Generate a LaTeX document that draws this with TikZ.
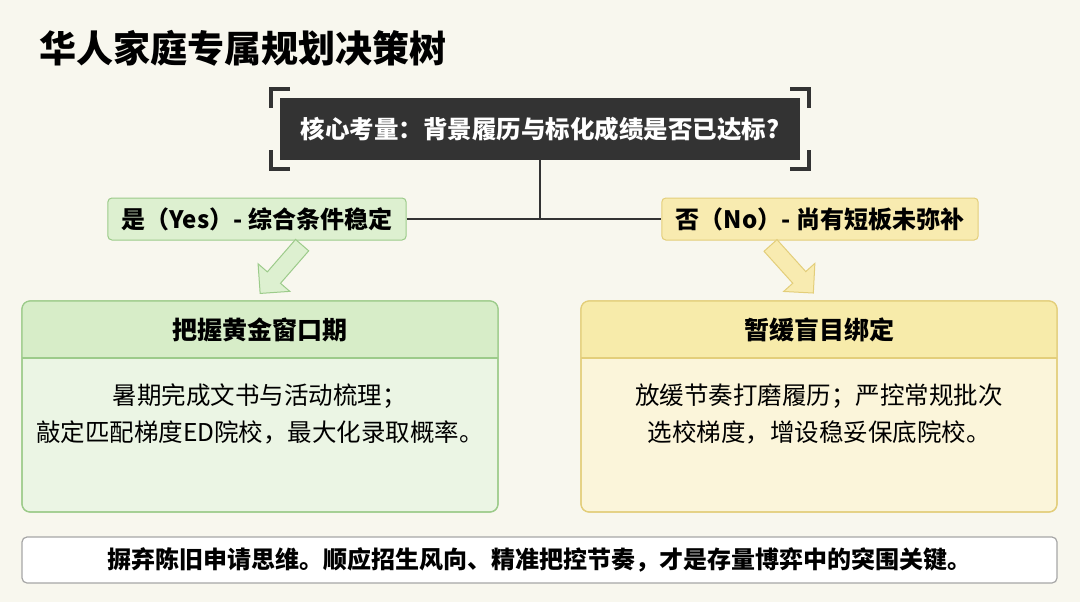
\documentclass[tikz,border=0pt]{standalone}
\usepackage{fontspec}
\setmainfont{Noto Sans CJK SC}
\usetikzlibrary{shapes.arrows}
\definecolor{bg}{HTML}{F8F7EE}
\definecolor{dark}{HTML}{333333}
\definecolor{gfill}{HTML}{DDF0D0}
\definecolor{gline}{HTML}{9CCB8A}
\definecolor{ghead}{HTML}{D7EDC8}
\definecolor{gbody}{HTML}{EBF5E4}
\definecolor{yfill}{HTML}{F8EBB0}
\definecolor{yline}{HTML}{E3CE7A}
\definecolor{yhead}{HTML}{F7EBAA}
\definecolor{ybody}{HTML}{FBF5DA}
\tikzset{
  lbl/.style={rounded corners=4pt, line width=1pt, minimum height=42pt, inner xsep=14pt, font=\fontsize{24}{28}\selectfont\bfseries, text=black},
  barrow/.style={single arrow, line width=1pt, minimum height=64pt, minimum width=42pt, inner sep=8pt, single arrow head extend=12pt},
  bodytxt/.style={align=center, font=\fontsize{24.5}{37}\selectfont, text=black},
  headtxt/.style={font=\fontsize{25}{28}\selectfont\bfseries, text=black},
  brk/.style={line width=4pt, dark}
}
\begin{document}
\begin{tikzpicture}[x=1pt,y=-1pt]
\fill[bg] (0,0) rectangle (1080,602);
\useasboundingbox (0,0) rectangle (1080,602);
\node[anchor=west, font=\fontsize{37}{40}\selectfont\bfseries] (title) at (36,48) {华人家庭专属规划决策树};
% top box
\node[fill=dark, minimum width=520pt, minimum height=62pt, text=white, font=\fontsize{24.5}{28}\selectfont\bfseries] (q) at (540,129) {核心考量：背景履历与标化成绩是否已达标?};
\draw[brk] (271,108) -- (271,89) -- (290,89);
\draw[brk] (790,89) -- (809,89) -- (809,108);
\draw[brk] (271,150) -- (271,169) -- (290,169);
\draw[brk] (790,169) -- (809,169) -- (809,150);
% labels
\node[lbl, draw=gline, fill=gfill] (yes) at (257,219) {是（Yes）- 综合条件稳定};
\node[lbl, draw=yline, fill=yfill] (no) at (820,219) {否（No）- 尚有短板未弥补};
\coordinate (j) at (540,219);
\draw[dark, line width=2pt] (q.south) -- (j);
\draw[dark, line width=2pt] (yes.east) -- (no.west);
% arrows
\node[barrow, draw=gline, fill=gfill, rotate=-131] (ga) at (284,266) {};
\node[barrow, draw=yline, fill=yfill, rotate=-48] (ya) at (789,266) {};
% panels
\draw[gline, line width=1.2pt, fill=gbody, rounded corners=8pt] (22,301) rectangle (498,512);
\begin{scope}
\clip[rounded corners=8pt] (22,301) rectangle (498,512);
\fill[ghead] (22,301) rectangle (498,358);
\end{scope}
\draw[gline, line width=1.2pt] (22,358) -- (498,358);
\draw[gline, line width=1.2pt, rounded corners=8pt] (22,301) rectangle (498,512);
\node[headtxt] (gh) at (260,330) {把握黄金窗口期};
\node[bodytxt] (gb) at (260,414) {暑期完成文书与活动梳理；\\敲定匹配梯度ED院校，最大化录取概率。};

\draw[yline, line width=1.2pt, fill=ybody, rounded corners=8pt] (581,301) rectangle (1057,512);
\begin{scope}
\clip[rounded corners=8pt] (581,301) rectangle (1057,512);
\fill[yhead] (581,301) rectangle (1057,358);
\end{scope}
\draw[yline, line width=1.2pt] (581,358) -- (1057,358);
\draw[yline, line width=1.2pt, rounded corners=8pt] (581,301) rectangle (1057,512);
\node[headtxt] (yh) at (819,330) {暂缓盲目绑定};
\node[bodytxt] (yb) at (819,414) {放缓节奏打磨履历；严控常规批次\\选校梯度，增设稳妥保底院校。};
% bottom
\node[draw=gray!70, line width=1.2pt, fill=white, rounded corners=5pt, minimum width=1035pt, minimum height=46pt, font=\fontsize{24}{28}\selectfont\bfseries] (bot) at (539.5,560) {摒弃陈旧申请思维。顺应招生风向、精准把控节奏，才是存量博弈中的突围关键。};
\end{tikzpicture}
\end{document}
